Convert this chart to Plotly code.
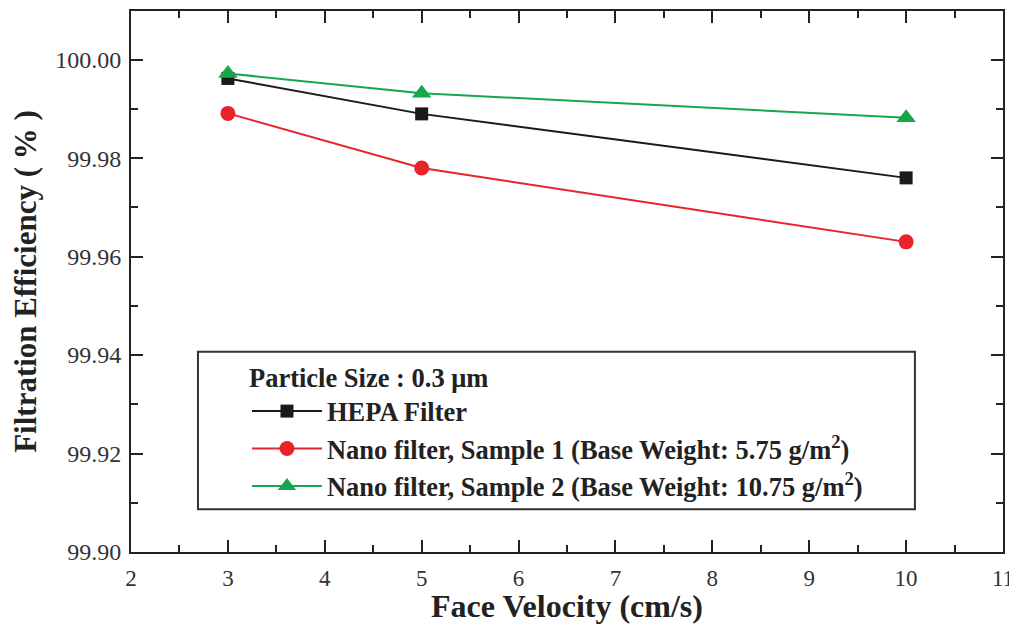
import plotly.graph_objects as go

velocity = [3, 5, 10]
hepa = [99.9962, 99.9890, 99.9760]
nano1 = [99.9891, 99.9780, 99.9630]
nano2 = [99.9972, 99.9932, 99.9882]

names = [
    "HEPA Filter",
    "Nano filter, Sample 1 (Base Weight: 5.75 g/m<sup>2</sup>)",
    "Nano filter, Sample 2 (Base Weight: 10.75 g/m<sup>2</sup>)",
]
colors = ["#1a1a1a", "#e8232b", "#14a84b"]
symbols = ["square", "circle", "triangle-up"]
sizes = [13, 15, 17]
series = [hepa, nano1, nano2]

FONT = "Liberation Serif, Times New Roman, serif"

fig = go.Figure()
for i, (nm, ys) in enumerate(zip(names, series)):
    fig.add_trace(go.Scatter(
        x=velocity, y=ys, name="<b>" + nm + "</b>", mode="lines+markers",
        line=dict(color=colors[i], width=2),
        marker=dict(symbol=symbols[i], size=sizes[i], color=colors[i]),
        legendgroup=str(i),
    ))

axis_common = dict(
    showline=True, linecolor="#222", linewidth=2, mirror="allticks",
    ticks="inside", ticklen=12, tickwidth=2, tickcolor="#222",
    showgrid=False, zeroline=False,
)

# the page body adds an 8px offset; figure sized/margined to compensate
fig.update_layout(
    width=1009, height=616,
    paper_bgcolor="white", plot_bgcolor="white",
    margin=dict(l=123, r=14, t=1, b=72),
    font=dict(family=FONT),
    xaxis=dict(
        range=[2, 11], dtick=1, tick0=0, ticklabelstandoff=4,
        tickfont=dict(family=FONT, size=23, color="#333"),
        minor=dict(dtick=0.5, ticks="inside", ticklen=7, tickwidth=2, tickcolor="#222"),
        title=dict(text="<b>Face Velocity (cm/s)</b>", font=dict(family=FONT, size=32, color="#222"), standoff=1),
        **axis_common,
    ),
    yaxis=dict(
        range=[99.90, 100.0099], dtick=0.02, tick0=99.90, tickformat=".2f", ticklabelstandoff=3,
        tickfont=dict(family=FONT, size=24, color="#333"),
        minor=dict(dtick=0.01, ticks="inside", ticklen=7, tickwidth=2, tickcolor="#222"),
        title=dict(text="<b>Filtration Efficiency ( % )</b>", font=dict(family=FONT, size=31, color="#222"), standoff=10),
        **axis_common,
    ),
    legend=dict(
        x=0.133, y=0.368, xanchor="left", yanchor="top",
        bgcolor="rgba(0,0,0,0)", borderwidth=0,
        font=dict(family=FONT, size=26.5, color="#222"),
        title=dict(text="<b>Particle Size : 0.3 μm</b>", font=dict(family=FONT, size=26.5, color="#222")),
        itemwidth=70, tracegroupgap=0,
    ),
    showlegend=True,
    shapes=[dict(
        type="rect", xref="paper", yref="paper",
        x0=0.0768, x1=0.899, y0=0.0792, y1=0.370,
        line=dict(color="#333", width=2), fillcolor="white", layer="below",
    )],
)

fig.write_html("out.html", config={"displayModeBar": False})
